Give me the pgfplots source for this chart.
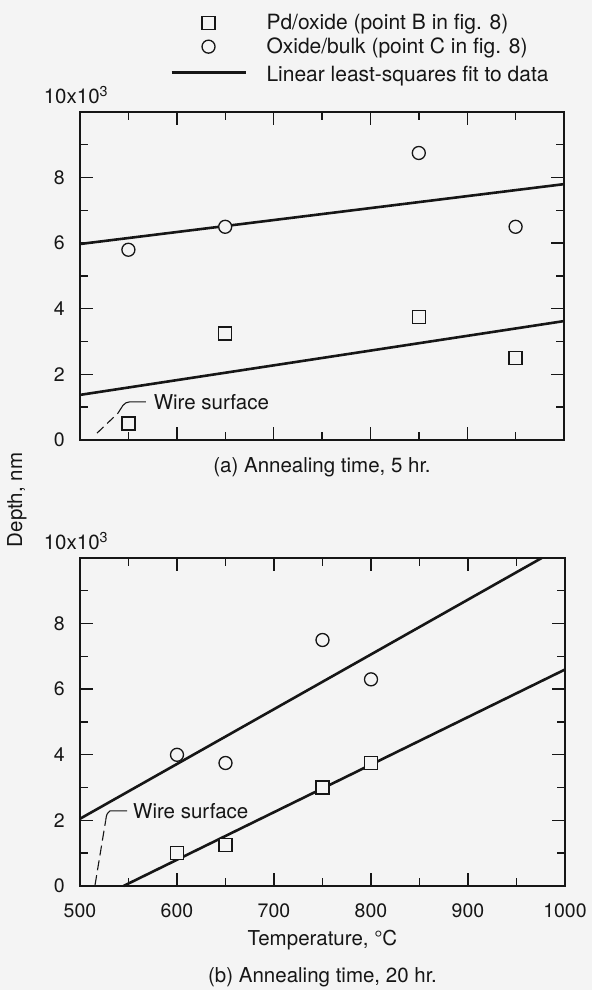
\documentclass[border=0pt]{standalone}
\usepackage{fontspec}
\setmainfont{TeX Gyre Heros}
\usepackage{pgfplots}
\pgfplotsset{compat=1.18}
\definecolor{bgc}{RGB}{244,244,244}
\definecolor{ink}{RGB}{22,22,22}
\newcommand{\fs}{\fontsize{20.5}{24}\selectfont}
\pgfplotsset{
  depthaxis/.style={
    scale only axis, width=484pt, height=328pt,
    xmin=500, xmax=1000, ymin=0, ymax=10,
    clip=false,
    axis line style={line width=1.6pt, ink},
    xtick={500,600,...,1000}, minor xtick={550,650,...,950},
    ytick={0,2,4,6,8,10}, minor ytick={1,3,...,9},
    yticklabels={0,2,4,6,8,{}},
    tick align=inside,
    major tick length=13pt, minor tick length=8pt,
    every tick/.style={ink, line width=1.4pt},
    tick label style={font=\fontsize{19.5}{23}\selectfont, text=ink},
    /pgf/number format/assume math mode=true,
    /pgf/number format/1000 sep={},
    yticklabel style={inner sep=0pt, xshift=-15pt},
    xticklabel style={inner sep=0pt, yshift=-17pt},
  },
  fitline/.style={ink, line width=2.6pt, no marks},
  sqmark/.style={only marks, mark=square*, mark size=6.5pt, mark options={line width=1.3pt, draw=ink, fill=bgc}},
  cimark/.style={only marks, mark=*, mark size=6.5pt, mark options={line width=1.3pt, draw=ink, fill=bgc}},
}
\begin{document}
\begin{tikzpicture}
\fill[bgc] (0pt,0pt) rectangle (592pt,990pt);
\path[use as bounding box] (0pt,0pt) rectangle (592pt,990pt);
\node[rotate=90, font=\fs, text=ink, inner sep=0pt] at (17pt,490pt) {Depth, nm};

% ---------- (a) 5 hr ----------
\begin{axis}[depthaxis, at={(80pt,550pt)}, anchor=south west, xticklabels={},
  legend style={at={(0.186,1.298)}, anchor=north west, draw=none, fill=none,
    inner sep=0pt, font=\fontsize{21}{25}\selectfont, text=ink,
    nodes={inner sep=0pt, text depth=0.2em}, row sep=6pt, cells={anchor=west}},
  legend cell align=left]
\addlegendimage{legend image code/.code={%
  \path[draw=none,fill=none] (0pt,-7pt) (95pt,7pt);
  \draw[ink, line width=1.3pt, fill=bgc] (30.5pt,-6.5pt) rectangle (43.5pt,6.5pt);}}
\addlegendentry{Pd/oxide (point B in fig. 8)}
\addlegendimage{legend image code/.code={%
  \path[draw=none,fill=none] (0pt,-7pt) (95pt,7pt);
  \draw[ink, line width=1.3pt, fill=bgc] (37pt,0pt) circle[radius=6.5pt];}}
\addlegendentry{Oxide/bulk (point C in fig. 8)}
\addlegendimage{legend image code/.code={%
  \path[draw=none,fill=none] (0pt,-7pt) (95pt,7pt);
  \draw[ink, line width=2.6pt] (0pt,0pt) -- (74pt,0pt);}}
\addlegendentry{\rule{0pt}{20pt}Linear least-squares fit to data}
\addplot[fitline, forget plot] coordinates {(500,5.975) (1000,7.8)};
\addplot[fitline, forget plot] coordinates {(500,1.375) (1000,3.625)};
\addplot[sqmark, forget plot] coordinates {(550,0.5) (650,3.25) (850,3.75) (950,2.5)};
\addplot[cimark, forget plot] coordinates {(550,5.8) (650,6.5) (850,8.75) (950,6.5)};
\draw[ink, line width=1.1pt, dash pattern=on 9pt off 5pt] (axis cs:517.6,0.21) -- (axis cs:539.3,0.82);
\draw[ink, line width=1.1pt] (axis cs:539.3,0.82) .. controls (axis cs:543,0.98) and (axis cs:545,1.16) .. (axis cs:551,1.16) -- (axis cs:568,1.16);
\node[anchor=west, inner sep=0pt, font=\fs, text=ink] at (axis cs:576,1.16) {Wire surface};
\node[anchor=base, inner sep=0pt, xshift=-4pt, yshift=8pt, font=\fs, text=ink] at (rel axis cs:0,1) {10x10\textsuperscript{3}};
\node[font=\fs, text=ink, yshift=-27pt, inner sep=0pt] at (rel axis cs:0.5,0) {(a) Annealing time, 5 hr.};
\end{axis}

% ---------- (b) 20 hr ----------
\begin{axis}[depthaxis, at={(80pt,104pt)}, anchor=south west, width=485pt]
\addplot[fitline] coordinates {(500,2.05) (976,10)};
\addplot[fitline] coordinates {(544.8,0) (1000,6.6)};
\addplot[sqmark] coordinates {(600,1.0) (650,1.25) (750,3.0) (800,3.75)};
\addplot[cimark] coordinates {(600,4.0) (650,3.75) (750,7.5) (800,6.3)};
\draw[ink, line width=1.1pt, dash pattern=on 10pt off 5pt] (axis cs:515.5,0.03) -- (axis cs:526.5,2.0);
\draw[ink, line width=1.1pt] (axis cs:526.5,2.0) .. controls (axis cs:527.5,2.2) .. (axis cs:531,2.29) -- (axis cs:548.5,2.29);
\node[anchor=west, inner sep=0pt, font=\fs, text=ink] at (axis cs:554.6,2.29) {Wire surface};
\node[anchor=base, inner sep=0pt, xshift=-4pt, yshift=8pt, font=\fs, text=ink] at (rel axis cs:0,1) {10x10\textsuperscript{3}};
\node[font=\fs, text=ink, yshift=-54pt, inner sep=0pt] at (rel axis cs:0.5,0) {Temperature, °C};
\node[font=\fs, text=ink, yshift=-91pt, inner sep=0pt] at (rel axis cs:0.5,0) {(b) Annealing time, 20 hr.};
\end{axis}
\end{tikzpicture}
\end{document}
